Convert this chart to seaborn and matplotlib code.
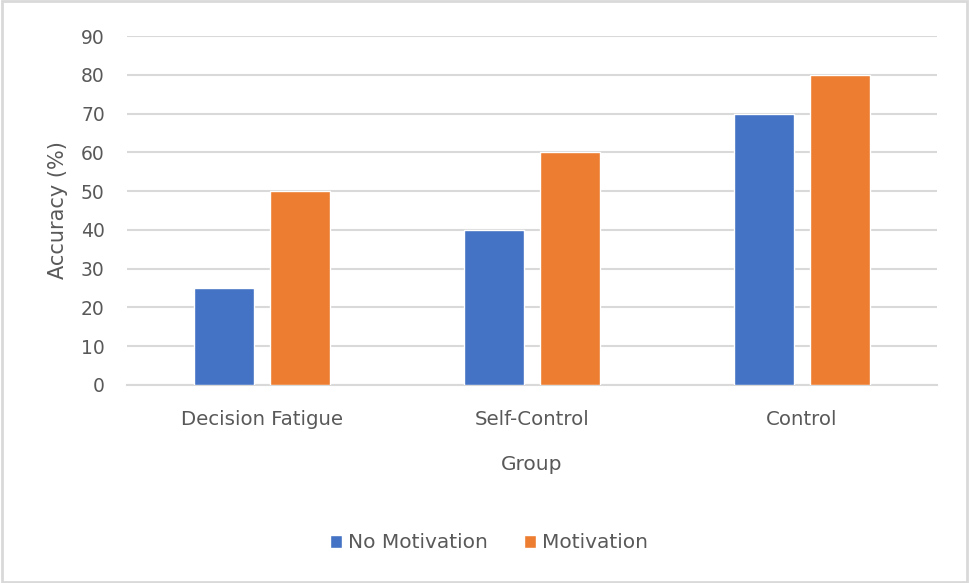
import matplotlib
matplotlib.use("Agg")
import matplotlib.pyplot as plt
from matplotlib.patches import Rectangle
import pandas as pd
import seaborn as sns

groups = ["Decision Fatigue", "Self-Control", "Control"]
no_motivation = [25, 40, 70]
motivation = [50, 60, 80]
series_names = ["No Motivation", "Motivation"]
y_ticks = [0, 10, 20, 30, 40, 50, 60, 70, 80, 90]

df = pd.DataFrame({
    "Group": groups * 2,
    "Accuracy": no_motivation + motivation,
    "Condition": [series_names[0]] * len(groups) + [series_names[1]] * len(groups),
})

sns.set_theme(style="white")
plt.rcParams["font.family"] = ["DejaVu Sans"]

text_color = "#595959"
grid_color = "#d9d9d9"
palette = {"No Motivation": "#4472C4", "Motivation": "#ED7D31"}

fig = plt.figure(figsize=(9.69, 5.83), dpi=100)
ax = fig.add_axes([127 / 969, 1 - 385 / 583, (937 - 127) / 969, (385 - 36) / 583])

sns.barplot(data=df, x="Group", y="Accuracy", hue="Condition",
            order=groups, hue_order=series_names, palette=palette,
            width=0.56, gap=0.2, saturation=1, errorbar=None, ax=ax,
            legend=True, zorder=3)

ax.set_ylim(0, 90)
ax.set_xlim(-0.5, 2.5)
ax.set_yticks(y_ticks)
ax.yaxis.grid(True, color=grid_color, linewidth=1.5, zorder=0)
ax.set_axisbelow(True)
for side in ["top", "right", "left"]:
    ax.spines[side].set_visible(False)
ax.spines["bottom"].set_color(grid_color)
ax.spines["bottom"].set_linewidth(1.5)
ax.tick_params(axis="y", length=0, labelsize=13.5, labelcolor=text_color, pad=16)
ax.tick_params(axis="x", length=0, labelsize=14.2, labelcolor=text_color, pad=18)

ax.set_ylabel("Accuracy (%)", fontsize=15, color=text_color, labelpad=9)
ax.set_xlabel("Group", fontsize=14.5, color=text_color, labelpad=19)

handles, labels = ax.get_legend_handles_labels()
ax.legend_.remove()
fig.legend(handles, labels, loc="center", bbox_to_anchor=(489 / 969, 1 - 543 / 583),
           ncol=2, frameon=False, fontsize=14.5, labelcolor=text_color,
           handlelength=0.6, handleheight=0.6, handletextpad=0.3, columnspacing=1.8)

fig.patches.append(Rectangle((0.002, 0.002), 0.996, 0.996, transform=fig.transFigure,
                             fill=False, edgecolor=grid_color, linewidth=2))

fig.savefig("out.png", dpi=100, facecolor="white")
